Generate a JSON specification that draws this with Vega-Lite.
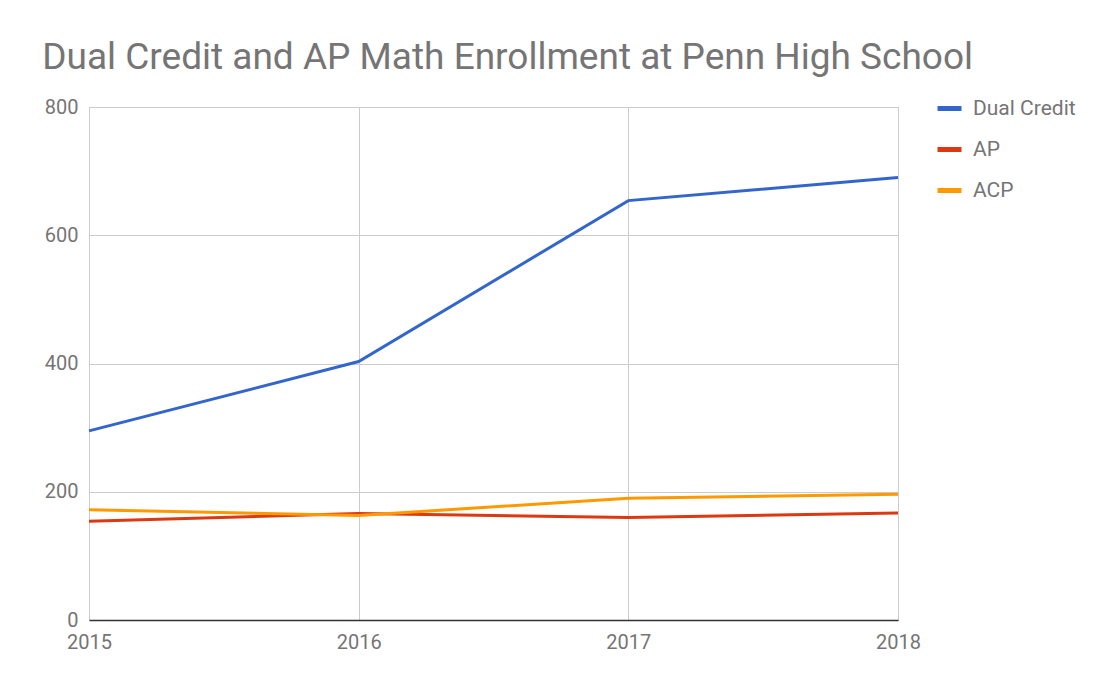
{
  "$schema": "https://vega.github.io/schema/vega-lite/v6.json",
  "width": 809,
  "height": 513,
  "autosize": {"type": "none"},
  "padding": {"left": 89, "top": 107, "right": 201, "bottom": 66},
  "background": "white",
  "title": {
    "text": "Dual Credit and AP Math Enrollment at Penn High School",
    "anchor": "start",
    "dx": -2,
    "offset": 17,
    "font": "Roboto",
    "fontSize": 37,
    "fontWeight": "normal",
    "color": "#757575"
  },
  "data": {
    "values": [
      {"year": 2015, "series": "Dual Credit", "value": 295},
      {"year": 2016, "series": "Dual Credit", "value": 403},
      {"year": 2017, "series": "Dual Credit", "value": 654},
      {"year": 2018, "series": "Dual Credit", "value": 690},
      {"year": 2015, "series": "AP", "value": 154},
      {"year": 2016, "series": "AP", "value": 166},
      {"year": 2017, "series": "AP", "value": 160},
      {"year": 2018, "series": "AP", "value": 167},
      {"year": 2015, "series": "ACP", "value": 172},
      {"year": 2016, "series": "ACP", "value": 163},
      {"year": 2017, "series": "ACP", "value": 190},
      {"year": 2018, "series": "ACP", "value": 196}
    ]
  },
  "mark": {"type": "line", "strokeWidth": 3},
  "encoding": {
    "x": {
      "field": "year",
      "type": "quantitative",
      "scale": {"domain": [2015, 2018], "nice": false, "zero": false},
      "axis": {
        "title": null,
        "values": [2015, 2016, 2017, 2018],
        "format": "d",
        "ticks": false,
        "domainColor": "#333333",
        "domainWidth": 1.5,
        "grid": true,
        "gridColor": "#cccccc",
        "labelFont": "Roboto",
        "labelFontSize": 20,
        "labelColor": "#757575",
        "labelPadding": 12,
        "labelFlush": false
      }
    },
    "y": {
      "field": "value",
      "type": "quantitative",
      "scale": {"domain": [0, 800], "nice": false},
      "axis": {
        "title": null,
        "values": [0, 200, 400, 600, 800],
        "ticks": false,
        "domain": false,
        "grid": true,
        "gridColor": "#cccccc",
        "labelFont": "Roboto",
        "labelFontSize": 20,
        "labelColor": "#757575",
        "labelPadding": 11
      }
    },
    "color": {
      "field": "series",
      "type": "nominal",
      "sort": ["Dual Credit", "AP", "ACP"],
      "scale": {"domain": ["Dual Credit", "AP", "ACP"], "range": ["#3366cc", "#dc3912", "#ff9900"]},
      "legend": {
        "title": null,
        "orient": "none",
        "legendX": 846,
        "legendY": -13,
        "symbolType": "stroke",
        "symbolSize": 576,
        "symbolStrokeWidth": 5,
        "labelFont": "Roboto",
        "labelFontSize": 21,
        "labelColor": "#757575",
        "labelOffset": 9,
        "rowPadding": 16
      }
    }
  },
  "config": {"view": {"stroke": "#cccccc"}}
}
